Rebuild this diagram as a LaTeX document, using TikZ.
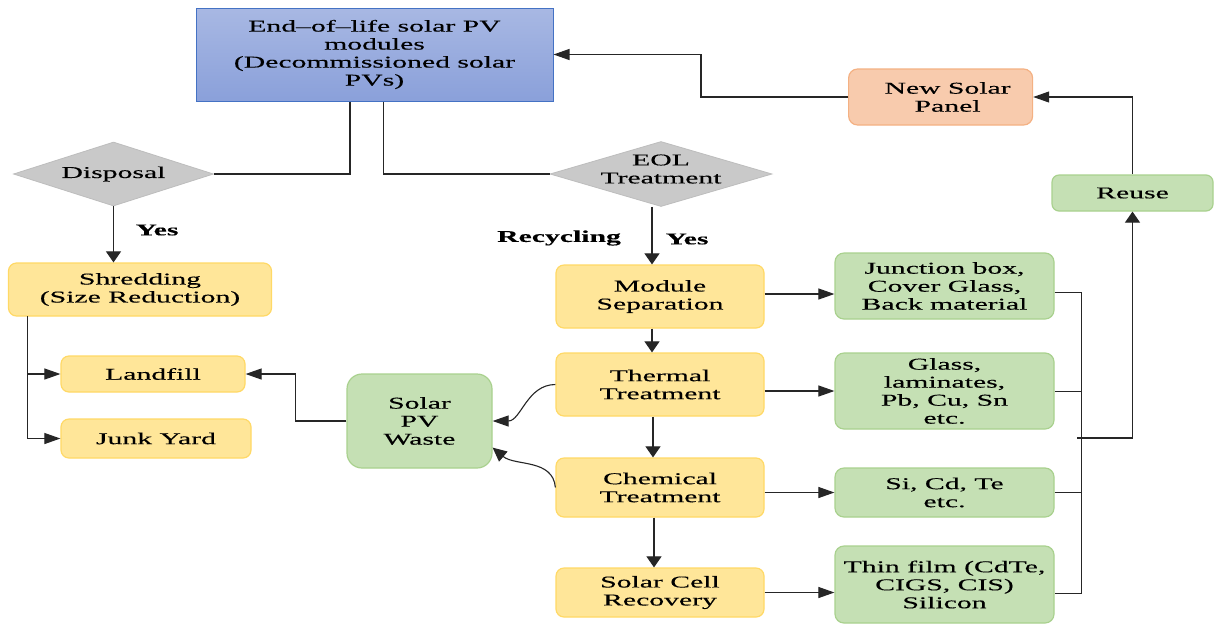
\documentclass[tikz,border=0pt]{standalone}
\usepackage{fontspec}
\setmainfont{Liberation Serif}[FakeStretch=1.8,FakeBold=0.3]
\usetikzlibrary{arrows.meta,shapes.geometric}
\definecolor{yfill}{HTML}{FFE699}
\definecolor{ydraw}{HTML}{FFD966}
\definecolor{gfill}{HTML}{C5E0B4}
\definecolor{gdraw}{HTML}{A9D18E}
\definecolor{ofill}{HTML}{F8CBAD}
\definecolor{odraw}{HTML}{F4B183}
\definecolor{btop}{HTML}{A8B8E3}
\definecolor{bbot}{HTML}{8AA0DA}
\definecolor{bdraw}{HTML}{4472C4}
\definecolor{dfill}{HTML}{C9C9C9}
\definecolor{ddraw}{HTML}{BDBDBD}
\definecolor{lcol}{HTML}{262626}
\tikzset{
  txt/.style={font=\fontsize{16.5}{18}\selectfont, align=center, inner sep=0pt},
  ybox/.style={txt, draw=ydraw, fill=yfill, line width=1.2pt, rounded corners=8pt},
  gbox/.style={txt, draw=gdraw, fill=gfill, line width=1.2pt, rounded corners=9pt},
  obox/.style={txt, draw=odraw, fill=ofill, line width=1.2pt, rounded corners=9pt},
  diam/.style={diamond, draw=ddraw, fill=dfill, line width=0.8pt, inner sep=0pt, aspect=3},
  conn/.style={draw=lcol, line width=1.1pt},
  harr/.style={conn, -{Triangle[length=16pt,width=11pt]}},
  varr/.style={conn, -{Triangle[length=11pt,width=15pt]}},
  darr/.style={conn, -{Triangle[length=14pt,width=13pt]}},
  lbl/.style={txt, font=\fontsize{16.5}{18}\selectfont\bfseries},
}
\begin{document}
\begin{tikzpicture}[x=1pt,y=-1pt]
\useasboundingbox (0,0) rectangle (1214,625);
\fill[white] (0,0) rectangle (1214,625);

% top box
\node[txt, draw=bdraw, top color=btop, bottom color=bbot, line width=1pt,
      minimum width=357pt, minimum height=93pt] (top) at (374.5,54.5)
  {End--of--life solar PV\\modules\\(Decommissioned solar\\PVs)};

% diamonds
\node[diam, minimum width=200pt, minimum height=64pt] (disp) at (113.5,174) {};
\node[txt] (disptxt) at (disp.center) {Disposal};
\node[diam, minimum width=222pt, minimum height=65pt] (eol) at (661,174) {};
\node[txt] (eoltxt) at (661,169) {EOL\\Treatment};

% left column
\node[ybox, minimum width=263pt, minimum height=53pt] (sh) at (140,289.5) {Shredding\\(Size Reduction)};
\node[ybox, minimum width=184pt, minimum height=36pt] (ld) at (153,374) {Landfill};
\node[ybox, minimum width=190pt, minimum height=39pt] (jy) at (156,438.5) {Junk Yard};
\node[gbox, rounded corners=15pt, minimum width=145pt, minimum height=94pt] (wa) at (419.5,421) {Solar\\PV\\Waste};

% middle column
\node[ybox, minimum width=208pt, minimum height=63pt] (ms) at (660,296.5) {Module\\Separation};
\node[ybox, minimum width=208pt, minimum height=63pt] (th) at (660,384.5) {Thermal\\Treatment};
\node[ybox, minimum width=208pt, minimum height=59pt] (ch) at (660,487.5) {Chemical\\Treatment};
\node[ybox, minimum width=208pt, minimum height=49pt] (sc) at (660,592.5) {Solar Cell\\Recovery};

% right column
\node[gbox, minimum width=219pt, minimum height=66pt] (jb) at (944.5,286) {Junction box,\\Cover Glass,\\Back material};
\node[gbox, minimum width=219pt, minimum height=76pt] (gl) at (944.5,391) {Glass,\\laminates,\\Pb, Cu, Sn\\etc.};
\node[gbox, minimum width=219pt, minimum height=49pt] (si) at (944.5,492.5) {Si, Cd, Te\\etc.};
\node[gbox, minimum width=219pt, minimum height=77pt] (tf) at (944.5,584.5) {Thin film (CdTe,\\CIGS, CIS)\\Silicon};

\node[obox, minimum width=184pt, minimum height=56pt] (nsp) at (940.6,97) {\hspace*{14pt}New Solar\\\hspace*{14pt}Panel};
\node[gbox, rounded corners=7pt, minimum width=161pt, minimum height=36pt] (re) at (1132.5,193) {Reuse};

% labels
\node[lbl] (yes1) at (157,230) {Yes};
\node[lbl] (rec) at (559,238) {Recycling};
\node[lbl] (yes2) at (687,239) {Yes};

% connectors from top
\draw[conn] (top.south -| 350,0) |- (disp.east);
\draw[conn] (top.south -| 383.5,0) |- (eol.west);
\draw[varr] (disp.south) -- (disp.south |- sh.north);
\draw[varr] (eol.south -| 652,0) -- (ms.north -| 652,0);

% shredding branches
\coordinate (sb) at (27.7,316);
\draw[harr] (sb) |- (ld.west);
\draw[harr] (sb) |- (jy.west);

% waste to landfill
\draw[harr] (wa.west) -- ++(-51,0) |- (ld.east);

% curves into waste
\draw[harr] (th.west) to[out=180,in=0] (wa.east);
\draw[darr] (ch.west) to[out=95,in=-40] (wa.-20);

% vertical process chain
\draw[varr] (ms.south -| 652,0) -- (th.north -| 652,0);
\draw[varr] (th.south -| 653,0) -- (ch.north -| 653,0);
\draw[varr] (ch.south -| 654,0) -- (sc.north -| 654,0);

% horizontal to products
\draw[harr] (ms.east |- 0,294) -- (jb.west |- 0,294);
\draw[harr] (gl.west -| th.east) -- (gl.west);
\draw[harr] (si.west -| ch.east) -- (si.west);
\draw[harr] (sc.east) -- (sc.east -| tf.west);

% collector bus
\coordinate (b1) at (1081,292);
\coordinate (b2) at (1081,391);
\coordinate (b3) at (1081,492);
\coordinate (b4) at (1081,593);
\coordinate (bm) at (1077,438);
\draw[conn, line width=0.9pt] (jb.east |- b1) -- (b1) -- (b4) -- (tf.east |- b4);
\draw[conn, line width=0.9pt] (gl.east) -- (b2);
\draw[conn, line width=0.9pt] (si.east |- b3) -- (b3);
\draw[varr] (bm) -- (re.south |- bm) -- (re.south);

% reuse to new panel to top
\draw[harr] (re.north) |- (nsp.east);
\draw[harr] (nsp.west) -- (701,97) |- (top.east);
\end{tikzpicture}
\end{document}
